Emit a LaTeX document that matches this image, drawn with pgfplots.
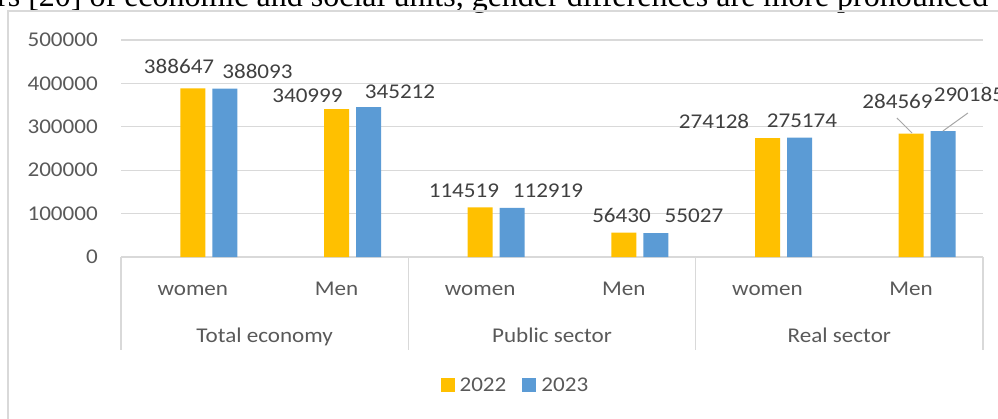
\documentclass[border=0pt]{standalone}
\usepackage{pgfplots}
\pgfplotsset{compat=1.18}
\usepackage{fontspec}
\setmainfont{Carlito}[FakeStretch=1.1]
\newfontfamily\seriffont{Liberation Serif}
\definecolor{gridgray}{HTML}{D9D9D9}
\definecolor{lblgray}{HTML}{595959}
\definecolor{datgray}{HTML}{404040}
\definecolor{gold}{HTML}{FFC000}
\definecolor{blu}{HTML}{5B9BD5}
\definecolor{leader}{HTML}{A6A6A6}
\newcommand{\cf}{\fontsize{21}{25}\selectfont}
\pgfplotsset{sqlegend/.style={legend image code/.code={\fill[##1,draw=none] (0pt,-7pt) rectangle (14pt,7pt); \path (17pt,0pt);}}}
\tikzset{dl/.style={font=\cf, text=datgray, anchor=base, inner sep=0pt},
  gl/.style={font=\cf, text=lblgray, anchor=base, inner sep=0pt, yshift=-85pt}}
\begin{document}
\begin{tikzpicture}[x=1pt,y=1pt]
\useasboundingbox (0,0) rectangle (998,418);
\node[anchor=base west, inner sep=0pt, font=\seriffont\fontsize{32}{36}\selectfont] at (-3,411.5) {rs [20] of economic and social units, gender differences are more pronounced};
\draw[gridgray, line width=1.5pt] (8,-2) -- (8,407) -- (1000,407);
\begin{axis}[
  at={(121pt,161pt)}, anchor=south west, scale only axis,
  width=862pt, height=217pt,
  xmin=0, xmax=6, ymin=0, ymax=500000,
  ytick={0,100000,200000,300000,400000,500000},
  scaled y ticks=false,
  /pgf/number format/fixed,
  /pgf/number format/1000 sep={},
  /pgf/number format/assume math mode=true,
  yticklabel style={font=\cf, text=lblgray, anchor=east, inner sep=0pt, xshift=-23pt},
  xtick={0.5,1.5,2.5,3.5,4.5,5.5},
  xticklabels={women,Men,women,Men,women,Men},
  xticklabel style={font=\cf, text=lblgray, anchor=base, inner sep=0pt, yshift=-38pt},
  axis line style={draw=none}, major tick length=0pt,
  ymajorgrids, grid style={gridgray, line width=1.3pt},
  clip=false,
  legend columns=2,
  legend style={at={(0.4575,-0.59)}, anchor=center, draw=none, fill=none, font=\cf, text=lblgray,
    /tikz/every even column/.append style={column sep=14pt}},
]
\addplot[ybar, bar width=25pt, bar shift=0pt, fill=gold, draw=none, sqlegend] coordinates {(0.5,388647) (1.5,340999) (2.5,114519) (3.5,56430) (4.5,274128) (5.5,284569)};
\addplot[ybar, bar width=25pt, bar shift=32pt, fill=blu, draw=none, sqlegend] coordinates {(0.5,388093) (1.5,345212) (2.5,112919) (3.5,55027) (4.5,275174) (5.5,290185)};
\legend{2022,2023}
% group separators and group labels
\draw[gridgray, line width=1.3pt] (axis cs:0,0) -- ++(0pt,-93pt);
\draw[gridgray, line width=1.3pt] (axis cs:2,0) -- ++(0pt,-93pt);
\draw[gridgray, line width=1.3pt] (axis cs:4,0) -- ++(0pt,-93pt);
\draw[gridgray, line width=1.3pt] (axis cs:6,0) -- ++(0pt,-93pt);
\node[gl] at (axis cs:1,0) {Total economy};
\node[gl] at (axis cs:3,0) {Public sector};
\node[gl] at (axis cs:5,0) {Real sector};
% data labels
\node[dl] at (axis cs:0.404,422812) {388647};
\node[dl] at (axis cs:0.950,412443) {388093};
\node[dl] at (axis cs:1.298,357143) {340999};
\node[dl] at (axis cs:1.942,366360) {345212};
\node[dl] at (axis cs:2.387,138249) {114519};
\node[dl] at (axis cs:2.972,138249) {112919};
\node[dl] at (axis cs:3.484,80645) {56430};
\node[dl] at (axis cs:3.988,80645) {55027};
\node[dl] at (axis cs:4.128,297235) {274128};
\node[dl] at (axis cs:4.740,299540) {275174};
\node[dl] at (axis cs:5.405,343318) {284569};
\node[dl] at (axis cs:5.902,359447) {290185};
\draw[leader, line width=1pt] (axis cs:5.401,320277) -- (axis cs:5.506,285715);
\draw[leader, line width=1pt] (axis cs:5.895,331798) -- (axis cs:5.721,290323);
\end{axis}
\end{tikzpicture}
\end{document}
